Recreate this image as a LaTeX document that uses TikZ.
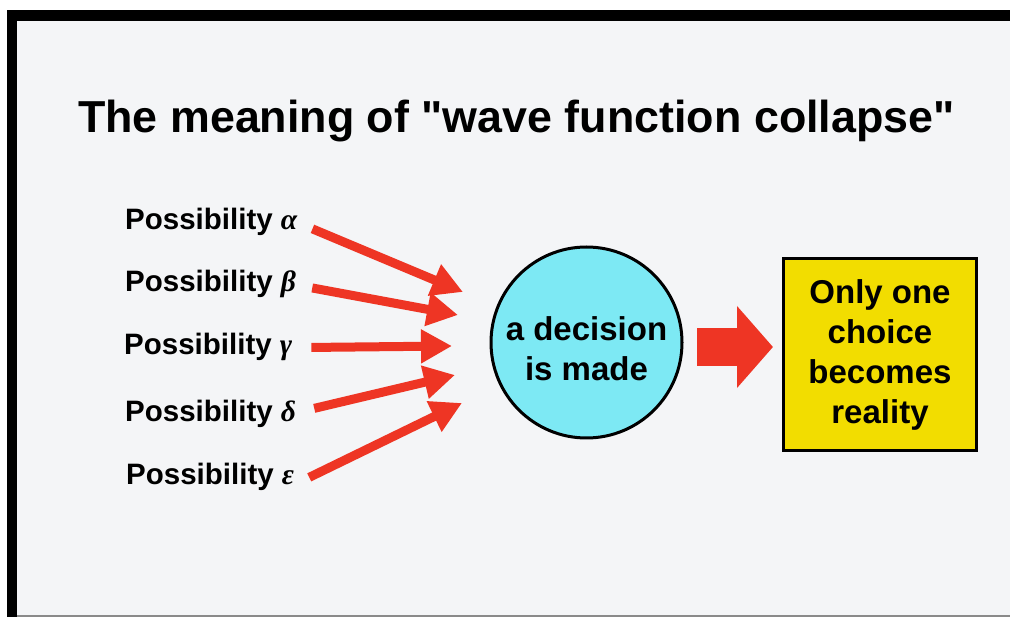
\documentclass[tikz,border=0pt]{standalone}
\usepackage{fontspec}
\setmainfont{Liberation Sans}
\newfontfamily\greekfont{Liberation Serif}
\usetikzlibrary{arrows.meta}
\definecolor{bgcol}{HTML}{F4F5F7}
\definecolor{arrred}{HTML}{EE3524}
\definecolor{cyanfill}{HTML}{7DE9F4}
\definecolor{boxyellow}{HTML}{F2DD00}
\definecolor{edgegray}{HTML}{8A8A8A}
\tikzset{
  titletext/.style={anchor=base west, inner sep=0pt, font=\fontsize{44.8}{50}\selectfont\bfseries},
  possib/.style={anchor=base west, inner sep=2pt, font=\fontsize{29.5}{34}\selectfont\bfseries},
  thinarrow/.style={draw=arrred, line width=9pt, -{Triangle[length=31pt,width=32pt]}},
  bigarrow/.style={draw=arrred, line width=38pt, -{Triangle[length=36pt,width=80pt]}},
  decision/.style={circle, draw=black, line width=3pt, fill=cyanfill, minimum size=191pt, inner sep=0pt},
  bigtext/.style={align=center, inner sep=0pt, font=\fontsize{33}{40}\selectfont\bfseries},
  resultbox/.style={rectangle, draw=black, line width=3pt, fill=boxyellow, minimum width=193pt, minimum height=192pt, inner sep=0pt, align=center, font=\fontsize{33}{40}\selectfont\bfseries}
}
\newcommand{\gk}[1]{{\greekfont\bfseries\itshape #1}}
\begin{document}
\begin{tikzpicture}[x=1pt,y=-1pt]
\useasboundingbox (0,0) rectangle (1010,617);
% frame and background
\fill[white] (0,0) rectangle (1010,617);
\fill[black] (7,10) rectangle (1010,617);
\fill[bgcol] (17,21) rectangle (1010,614.5);
\fill[edgegray] (17,614.5) rectangle (1010,617);
% title
\node[titletext] (title) at (78,133) {The meaning of \textquotedbl wave function collapse\textquotedbl};
% possibilities
\node[possib] (pa) at (123,230) {Possibility \gk{α}};
\node[possib] (pb) at (123,292) {Possibility \gk{β}};
\node[possib] (pc) at (122,355) {Possibility \gk{γ}};
\node[possib] (pd) at (123,422) {Possibility \gk{δ}};
\node[possib] (pe) at (124,485) {Possibility \gk{ε}};
% arrow tips
\coordinate (ta) at (463,292);
\coordinate (tb) at (458,315);
\coordinate (tc) at (452,346);
\coordinate (td) at (455,375);
\coordinate (te) at (462,403);
\draw[thinarrow] ([shift={(13,6.5)}]pa.east) -- (ta);
\draw[thinarrow] ([shift={(14,3.5)}]pb.east) -- (tb);
\draw[thinarrow] ([shift={(17,0)}]pc.east) -- (tc);
\draw[thinarrow] ([shift={(16,-6)}]pd.east) -- (td);
\draw[thinarrow] ([shift={(13,0)}]pe.east) -- (te);
% decision circle
\node[decision] (dec) at (586.5,342.5) {};
\node[bigtext] (dectext) at (586.5,349) {a decision\\is made};
% result box
\node[resultbox] (res) at (880,354.5) {Only one\\choice\\becomes\\reality};
% big arrow
\coordinate (bs) at (697,347);
\coordinate (bt) at (773,347);
\draw[bigarrow] (bs) -- (bt);
\end{tikzpicture}
\end{document}
